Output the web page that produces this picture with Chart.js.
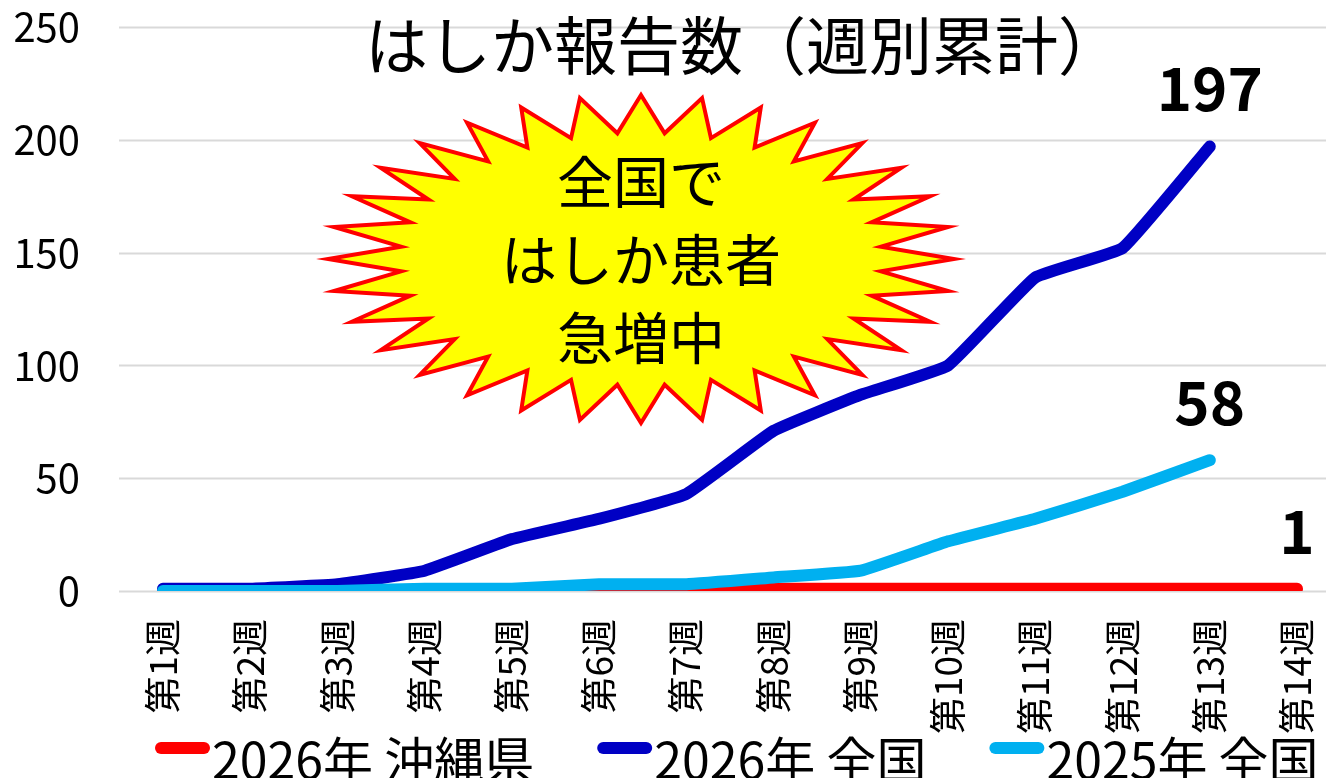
<!DOCTYPE html>
<html>
<head>
  <meta charset="utf-8">
  <title>はしか報告数</title>
  <script src="https://cdn.jsdelivr.net/npm/chart.js"></script>
  <style>
    html, body { margin: 0; padding: 0; background: #fff; overflow: hidden; }
  </style>
</head>
<body>
  <canvas id="measlesChart" width="1326" height="778"></canvas>

  <script>
    const weeks = ['第1週', '第2週', '第3週', '第4週', '第5週', '第6週', '第7週',
                   '第8週', '第9週', '第10週', '第11週', '第12週', '第13週', '第14週'];
    const okinawa2026 = [0, 0, 0, 0, 0, 0, 0, 1, 1, 1, 1, 1, 1, 1];
    const national2026 = [1, 1, 3, 9, 23, 32, 43, 71, 87, 100, 139, 152, 197, null];
    const national2025 = [0, 0, 0, 1, 1, 3, 3, 6, 9, 22, 32, 44, 58, null];
    const yTicks = [0, 50, 100, 150, 200, 250];

    const titleText = 'はしか報告数（週別累計）';
    const burstLines = ['全国で', 'はしか患者', '急増中'];
    const FONT = "'Noto Sans CJK JP', 'Noto Sans', sans-serif";

    // grid lines run past the plot area, like the original
    const gridPlugin = {
      id: 'wideGrid',
      beforeDatasetsDraw(chart) {
        const ctx = chart.ctx;
        const y = chart.scales.y;
        ctx.save();
        ctx.strokeStyle = '#d9d9d9';
        ctx.lineWidth = 2;
        yTicks.forEach(v => {
          const py = Math.round(y.getPixelForValue(v)) + 0.5;
          ctx.beginPath();
          ctx.moveTo(119, py);
          ctx.lineTo(chart.width, py);
          ctx.stroke();
        });
        ctx.restore();
      }
    };

    // value label at the last point of each series
    const endLabelPlugin = {
      id: 'endLabels',
      afterDatasetsDraw(chart) {
        const ctx = chart.ctx;
        ctx.save();
        ctx.font = 'bold 60px ' + FONT;
        ctx.fillStyle = '#000';
        ctx.textAlign = 'center';
        ctx.textBaseline = 'middle';
        chart.data.datasets.forEach((ds, i) => {
          let last = ds.data.length - 1;
          while (last >= 0 && ds.data[last] == null) last--;
          const pt = chart.getDatasetMeta(i).data[last];
          ctx.fillText(String(ds.data[last]), pt.x, pt.y - 58);
        });
        ctx.restore();
      }
    };

    // title, starburst callout and legend
    const decorPlugin = {
      id: 'decor',
      afterDraw(chart) {
        const ctx = chart.ctx;
        ctx.save();

        ctx.font = '63px ' + FONT;
        ctx.fillStyle = '#000';
        ctx.textAlign = 'center';
        ctx.textBaseline = 'middle';
        ctx.fillText(titleText, 743, 45);

        // 32-point star
        const cx = 641, cy = 259, rx = 313, ry = 164, n = 32, inner = 0.77;
        ctx.beginPath();
        for (let i = 0; i < n * 2; i++) {
          const a = -Math.PI / 2 + i * Math.PI / n;
          const r = i % 2 ? inner : 1;
          const px = cx + rx * r * Math.cos(a);
          const py = cy + ry * r * Math.sin(a);
          if (i === 0) ctx.moveTo(px, py); else ctx.lineTo(px, py);
        }
        ctx.closePath();
        ctx.fillStyle = '#ffff00';
        ctx.fill();
        ctx.lineWidth = 4;
        ctx.lineJoin = 'miter';
        ctx.strokeStyle = '#ff0000';
        ctx.stroke();

        ctx.font = '56px ' + FONT;
        ctx.fillStyle = '#000';
        burstLines.forEach((t, i) => ctx.fillText(t, 641, 182 + i * 78));

        // legend
        ctx.font = '50px ' + FONT;
        ctx.textAlign = 'left';
        let x = 155;
        chart.data.datasets.forEach(ds => {
          ctx.strokeStyle = ds.borderColor;
          ctx.lineWidth = 12;
          ctx.lineCap = 'round';
          ctx.beginPath();
          ctx.moveTo(x + 6, 748);
          ctx.lineTo(x + 49, 748);
          ctx.stroke();
          ctx.fillStyle = '#000';
          ctx.fillText(ds.label, x + 57, 760);
          x += 57 + ctx.measureText(ds.label).width + 63;
        });

        ctx.restore();
      }
    };

    const lineStyle = {
      borderWidth: 12,
      borderCapStyle: 'round',
      borderJoinStyle: 'round',
      pointRadius: 0,
      tension: 0.1,
      fill: false
    };

    new Chart(document.getElementById('measlesChart'), {
      type: 'line',
      data: {
        labels: weeks,
        datasets: [
          { label: '2026年 沖縄県', data: okinawa2026, borderColor: '#ff0000', backgroundColor: '#ff0000', order: 2, ...lineStyle },
          { label: '2026年 全国', data: national2026, borderColor: '#0000c4', backgroundColor: '#0000c4', order: 1, ...lineStyle },
          { label: '2025年 全国', data: national2025, borderColor: '#00b0f0', backgroundColor: '#00b0f0', order: 0, ...lineStyle }
        ]
      },
      options: {
        responsive: false,
        animation: false,
        layout: { padding: { top: 27, right: 29, left: 0, bottom: 0 } },
        plugins: {
          legend: { display: false },
          title: { display: false },
          tooltip: { enabled: false }
        },
        scales: {
          x: {
            offset: false,
            grid: { display: false, drawTicks: false },
            border: { display: false },
            ticks: {
              minRotation: 90,
              maxRotation: 90,
              padding: 28,
              color: '#000',
              font: { family: FONT, size: 37 }
            },
            afterFit(s) {
              s.height = 187;
              s.paddingLeft = 0;
              s.paddingRight = 0;
            }
          },
          y: {
            min: 0,
            max: 250,
            grid: { display: false, drawTicks: false },
            border: { display: false },
            ticks: {
              stepSize: 50,
              padding: 83,
              color: '#000',
              font: { family: FONT, size: 40 }
            },
            afterFit(s) {
              s.width = 163;
              s.paddingTop = 0;
              s.paddingBottom = 0;
            }
          }
        }
      },
      plugins: [gridPlugin, endLabelPlugin, decorPlugin]
    });
  </script>
</body>
</html>
